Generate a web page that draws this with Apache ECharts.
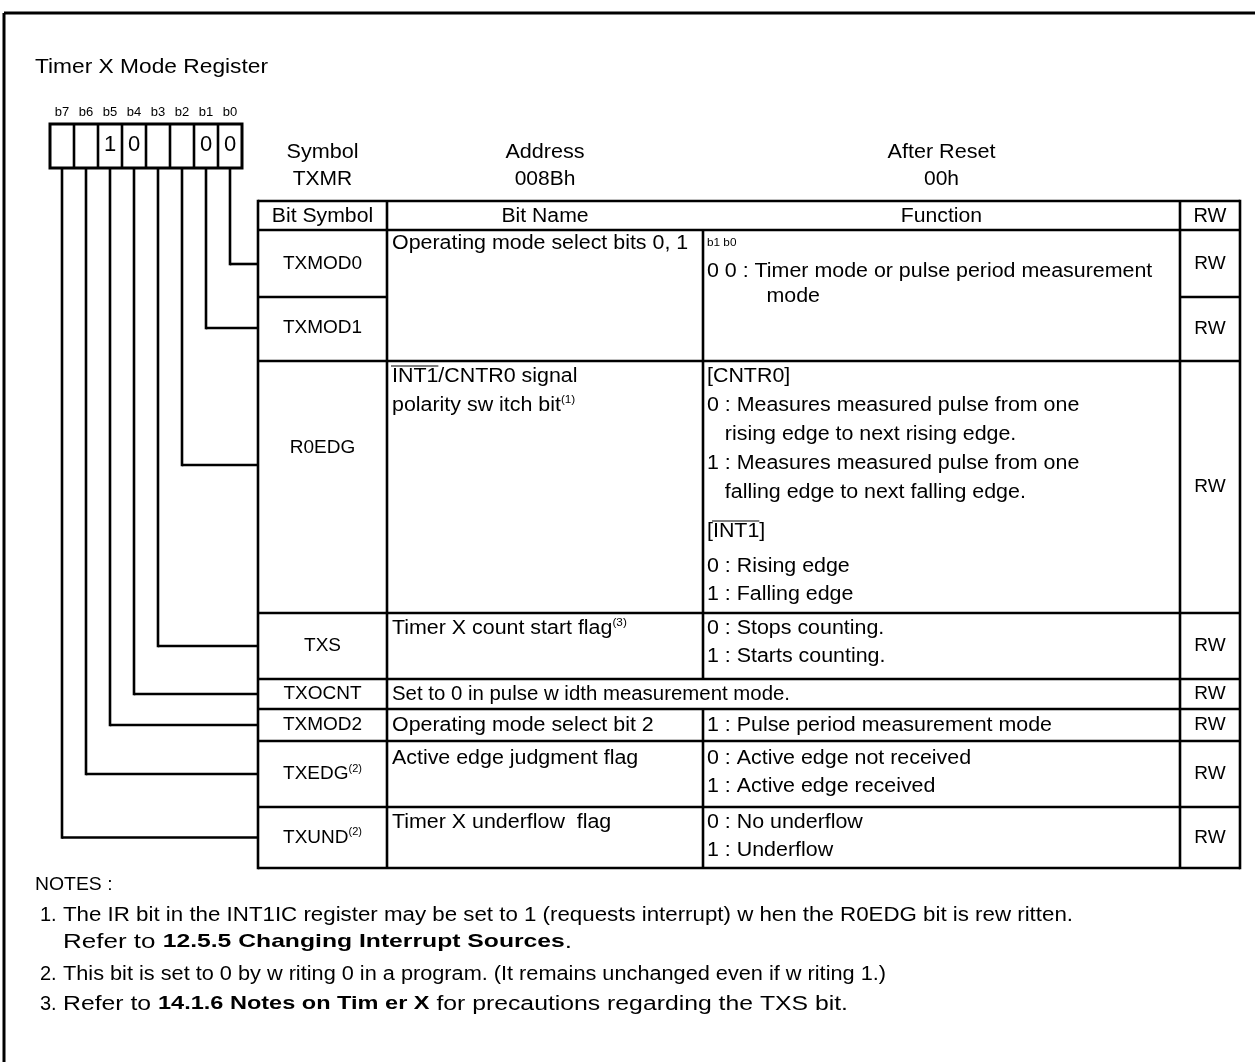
<!DOCTYPE html>
<html><head><meta charset="utf-8">
<script src="https://cdn.jsdelivr.net/npm/echarts@6/dist/echarts.min.js"></script>
<style>html,body{margin:0;padding:0;background:#fff}#c{width:1255px;height:1062px}</style>
</head><body><div id="c"></div>
<script>
// ---------- content ----------
const title = 'Timer X Mode Register';
const bitLabels = ['b7','b6','b5','b4','b3','b2','b1','b0'];
const bitValues = ['','','1','0','','','0','0'];
const topLabels = ['Symbol','Address','After Reset'];
const topValues = ['TXMR','008Bh','00h'];
const columnHeaders = ['Bit Symbol','Bit Name','Function','RW'];
const bitSymbols = ['TXMOD0','TXMOD1','R0EDG','TXS','TXOCNT','TXMOD2','TXEDG','TXUND'];
const bitSymbolNotes = ['','','','','','','(2)','(2)'];
const rowBits = [0,1,2,3,4,5,6,7];
// null = merged with the row above; '^x^' = overlined text
const bitNames = [
  ['Operating mode select bits 0, 1'],
  null,
  ['^INT1^/CNTR0 signal','polarity sw itch bit{sup|(1)}'],
  ['Timer X count start flag{sup|(3)}'],
  ['Set to 0 in pulse w idth measurement mode.'],
  ['Operating mode select bit 2'],
  ['Active edge judgment flag'],
  ['Timer X underflow  flag']
];
const functions = [
  ['{small|b1 b0}','0 0 : Timer mode or pulse period measurement','          mode'],
  null,
  ['[CNTR0]','0 : Measures measured pulse from one','   rising edge to next rising edge.','1 : Measures measured pulse from one','   falling edge to next falling edge.','[^INT1^]','0 : Rising edge','1 : Falling edge'],
  ['0 : Stops counting.','1 : Starts counting.'],
  'span',
  ['1 : Pulse period measurement mode'],
  ['0 : Active edge not received','1 : Active edge received'],
  ['0 : No underflow','1 : Underflow']
];
const rwValues = ['RW','RW','RW','RW','RW','RW','RW','RW'];
const notesTitle = 'NOTES :';
const noteNumbers = ['1.','2.','3.'];
const notes = [
  ['The IR bit in the INT1IC register may be set to 1 (requests interrupt) w hen the R0EDG bit is rew ritten.','Refer to {b|12.5.5 Changing Interrupt Sources}.'],
  ['This bit is set to 0 by w riting 0 in a program. (It remains unchanged even if w riting 1.)'],
  ['Refer to {b|14.1.6 Notes on Tim er X} for precautions regarding the TXS bit.']
];

// ---------- layout (positions / styles) ----------
const FAM = '"Liberation Sans", Arial, Helvetica, sans-serif';
const FS = 20;          // table text size
const SX = 1.07;        // horizontal stretch for running text
const LW = 2.6;
const cols = [258, 387, 703, 1180, 1240];
const tableTop = 201, headBottom = 230;
const rowEdges = [230, 297, 361, 613, 679, 709, 741, 807, 868];
const symbolY = [264, 328, 448, null, null, null, null, null];
const leaderY = [264, 328, 465, null, null, null, null, null];
const firstLineOffset = [13, 0, 15, 15, 0, 0, 17, 15];
const lineStep = 28;
const customFnY = {0: [243, 271, 296], 2: [376, 405, 434, 463, 492, 531, 566, 594]};
const boxX = 50, cellW = 24, boxTop = 124, boxBottom = 168;
const noteX = 35, noteNumX = 40, noteTextX = 63;
const noteYs = [[915, 942], [974], [1004]];
const noteRightEdge = [[1073, 572], [886], [848]];

const RICH = {
  sup: {fontSize: 11, lineHeight: 11, verticalAlign: 'top', fontFamily: FAM, fill: '#000'},
  small: {fontSize: 11, fontFamily: FAM, fill: '#000'},
  b: {fontSize: 19, fontWeight: 'bold', fontFamily: FAM, fill: '#000'}
};

const els = [];
function L(x1, y1, x2, y2, w) {
  els.push({type: 'line', silent: true, shape: {x1, y1, x2, y2}, style: {stroke: '#000', lineWidth: w || LW}});
}
const mctx = document.createElement('canvas').getContext('2d');
function measure(t, fs, bold) { mctx.font = (bold ? 'bold ' : '') + fs + 'px ' + FAM; return mctx.measureText(t).width; }
function measureRich(str, fs) {
  let w = 0;
  const re = /\{(\w+)\|([^}]*)\}/g;
  let last = 0, m;
  while ((m = re.exec(str))) {
    w += measure(str.slice(last, m.index), fs);
    const st = RICH[m[1]];
    w += measure(m[2], st.fontSize, st.fontWeight === 'bold');
    last = re.lastIndex;
  }
  w += measure(str.slice(last), fs);
  return w;
}
function T(str, x, y, opt) {
  opt = Object.assign({}, opt || {});
  const fs = opt.fontSize || FS;
  let sx = opt.sx || 1;
  delete opt.sx;
  let plain = str.split('^').join('');
  if (opt.fitRight) {
    sx = (opt.fitRight - x) / measureRich(plain, fs);
    delete opt.fitRight;
  }
  if (str.indexOf('^') >= 0) {
    const parts = str.split('^');
    let acc = '';
    for (let i = 0; i < parts.length; i++) {
      if (i % 2 === 1) {
        const x0 = x + measure(acc, fs) * sx;
        const w = measure(parts[i], fs) * sx;
        L(x0 - 1, y - fs * 0.5, x0 + w, y - fs * 0.5, 1.2);
      }
      acc += parts[i];
    }
  }
  els.push({type: 'text', silent: true, x: x, y: y, scaleX: sx, style: Object.assign({
    text: plain, fill: '#000', fontSize: fs, fontFamily: FAM, lineHeight: 22,
    align: 'left', verticalAlign: 'middle', rich: RICH
  }, opt)});
}

// frame
L(4, 13, 1255, 13, 3);
L(4, 13, 4, 1062, 3);

// title
T(title, 35, 67, {fontSize: 21, fitRight: 268});

// bit box
bitLabels.forEach((b, i) => {
  const cx = boxX + i * cellW + cellW / 2;
  T(b, cx, 112, {fontSize: 13, align: 'center'});
  if (bitValues[i]) T(bitValues[i], cx, 145, {fontSize: 22, align: 'center'});
  if (i > 0) L(boxX + i * cellW, boxTop, boxX + i * cellW, boxBottom, LW);
});
els.push({type: 'rect', silent: true, shape: {x: boxX, y: boxTop, width: cellW * 8, height: boxBottom - boxTop}, style: {fill: 'none', stroke: '#000', lineWidth: 3}});

// top labels
topLabels.forEach((t, i) => {
  const cx = (cols[i] + cols[i + 1]) / 2;
  T(t, cx, 152, {align: 'center', sx: 1.08});
  T(topValues[i], cx, 179, {align: 'center', sx: 1.05});
});

// table header
columnHeaders.forEach((t, i) => {
  T(t, (cols[i] + cols[i + 1]) / 2, (tableTop + headBottom) / 2 + 1, {align: 'center', sx: i === 3 ? 1 : 1.06});
});

// table grid
L(cols[0], tableTop, cols[4], tableTop);
L(cols[0], headBottom, cols[4], headBottom);
L(cols[0], tableTop - 1.3, cols[0], rowEdges[8] + 1.3);
L(cols[4], tableTop - 1.3, cols[4], rowEdges[8] + 1.3);
L(cols[1], tableTop, cols[1], rowEdges[8]);
L(cols[3], tableTop, cols[3], rowEdges[8]);
for (let r = 0; r < bitSymbols.length; r++) {
  const top = rowEdges[r], bot = rowEdges[r + 1];
  const mergedNext = r + 1 < bitNames.length && bitNames[r + 1] === null;
  if (mergedNext) {
    L(cols[0], bot, cols[1], bot);
    L(cols[3], bot, cols[4], bot);
  } else {
    L(cols[0], bot, cols[4], bot);
  }
  if (functions[r] !== 'span') L(cols[2], top, cols[2], bot);
}

// rows content
for (let r = 0; r < bitSymbols.length; r++) {
  const top = rowEdges[r], bot = rowEdges[r + 1];
  const mid = (top + bot) / 2;
  const sy = symbolY[r] != null ? symbolY[r] : mid;
  const sym = bitSymbols[r] + (bitSymbolNotes[r] ? '{sup|' + bitSymbolNotes[r] + '}' : '');
  T(sym, (cols[0] + cols[1]) / 2, sy, {align: 'center', fontSize: 19});
  T(rwValues[r], (cols[3] + cols[4]) / 2, mid, {align: 'center', fontSize: 19});
  const b = rowBits[r];
  const lx = boxX + (7 - b) * cellW + cellW / 2;
  const ly = leaderY[r] != null ? leaderY[r] : mid;
  L(lx, boxBottom, lx, ly + LW / 2);
  L(lx, ly, cols[0], ly);

  const nm = bitNames[r];
  if (!nm) continue;
  if (functions[r] === 'span') {
    T(nm[0], cols[1] + 5, mid, {sx: 1.02});
    continue;
  }
  const firstY = firstLineOffset[r] ? top + firstLineOffset[r] : mid;
  nm.forEach((t, k) => T(t, cols[1] + 5, firstY + k * 29, {sx: SX}));
  const fn = functions[r];
  fn.forEach((t, k) => {
    const y = customFnY[r] ? customFnY[r][k] : firstY + k * lineStep;
    T(t, cols[2] + 4, y, {sx: SX});
  });
}

// notes
T(notesTitle, noteX, 885, {fontSize: 19, sx: 1.02});
notes.forEach((lines, i) => {
  T(noteNumbers[i], noteNumX, noteYs[i][0], {fontSize: 20});
  lines.forEach((t, k) => {
    T(t, noteTextX, noteYs[i][k], {fontSize: 20, fitRight: noteRightEdge[i][k]});
  });
});

const chart = echarts.init(document.getElementById('c'), null, {renderer: 'canvas'});
chart.setOption({animation: false, backgroundColor: '#fff', graphic: {elements: els}});
</script></body></html>
